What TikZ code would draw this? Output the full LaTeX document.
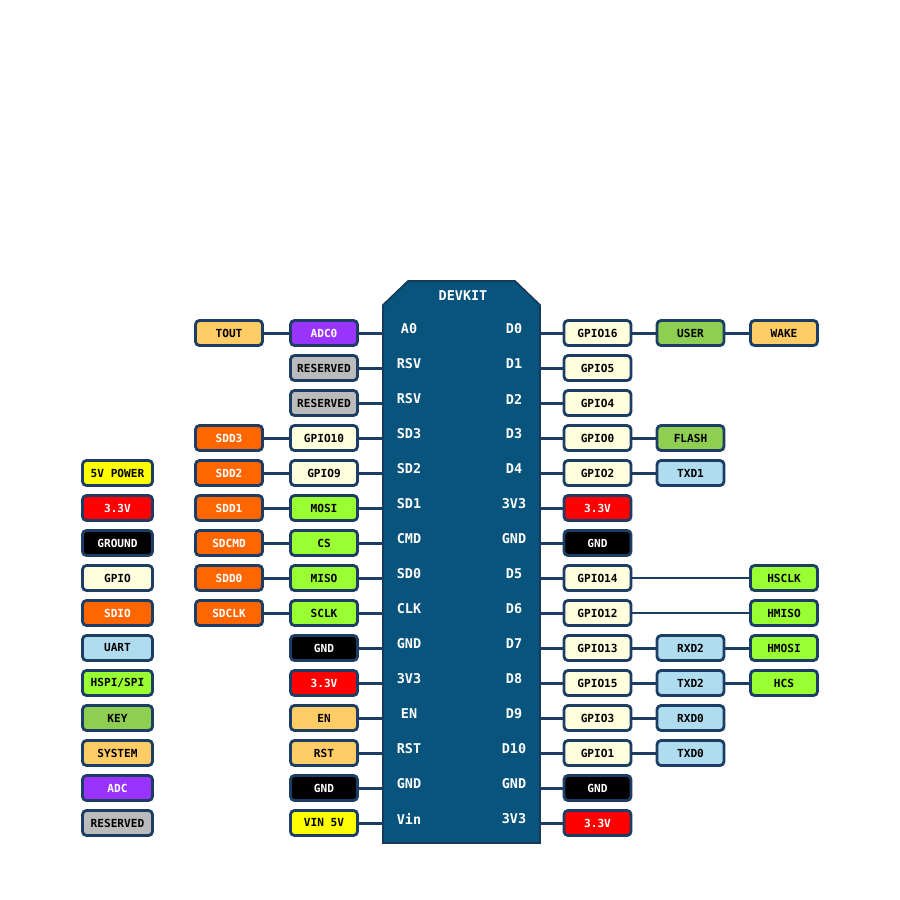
\documentclass[tikz,border=0pt]{standalone}
\usepackage{fontspec}
\setmonofont{DejaVu Sans Mono}

\definecolor{edgeblue}{RGB}{28,62,100}
\definecolor{boardblue}{RGB}{8,84,125}
\definecolor{boardedge}{RGB}{22,58,92}
\definecolor{sysorange}{RGB}{255,204,102}
\definecolor{adcpurple}{RGB}{153,51,255}
\definecolor{resgray}{RGB}{187,187,187}
\definecolor{gpioyellow}{RGB}{255,255,221}
\definecolor{sdorange}{RGB}{255,102,0}
\definecolor{spigreen}{RGB}{153,255,51}
\definecolor{keygreen}{RGB}{142,206,80}
\definecolor{uartblue}{RGB}{176,220,240}
\definecolor{pwrred}{RGB}{255,0,0}
\definecolor{vinyellow}{RGB}{255,255,0}

\tikzset{
  pinbox/.style={draw=edgeblue, line width=0.85mm, rounded corners=1.2mm,
    minimum width=20.1mm, minimum height=7.5mm, inner sep=0pt,
    font=\ttfamily\bfseries\fontsize{9.5}{11}\selectfont, text=black},
  keybox/.style={minimum width=21mm},
  gpiobox/.style={pinbox, fill=gpioyellow},
  sysbox/.style={pinbox, fill=sysorange},
  adcbox/.style={pinbox, fill=adcpurple, text=white},
  resbox/.style={pinbox, fill=resgray},
  sdbox/.style={pinbox, fill=sdorange, text=white},
  spibox/.style={pinbox, fill=spigreen},
  keyfn/.style={pinbox, fill=keygreen},
  uartbox/.style={pinbox, fill=uartblue},
  pwrbox/.style={pinbox, fill=pwrred, text=white},
  gndbox/.style={pinbox, fill=black, text=white},
  vinbox/.style={pinbox, fill=vinyellow},
  wire/.style={draw=edgeblue, line width=0.9mm},
  thinwire/.style={draw=edgeblue, line width=0.55mm},
  board/.style={fill=boardblue, draw=boardedge, line width=0.5mm},
  pinlbl/.style={text=white, font=\ttfamily\bfseries\fontsize{11.5}{13}\selectfont},
}

\begin{document}
\begin{tikzpicture}[x=0.3mm, y=-0.3mm]
  \useasboundingbox (0,0) rectangle (900,900);

  % the module
  \draw[board] (383,305) -- (408,281) -- (515,281) -- (540,305)
    -- (540,843) -- (383,843) -- cycle;
  \coordinate (bw) at (383,0);
  \coordinate (be) at (540,0);
  \node[pinlbl] (title) at (463,296) {DEVKIT};

  \foreach \t [count=\i] in {A0,RSV,RSV,SD3,SD2,SD1,CMD,SD0,CLK,GND,3V3,EN,RST,GND,Vin}
    \node[pinlbl] (l\i) at (409,{329+35*(\i-1)}) {\t};
  \foreach \t [count=\i] in {D0,D1,D2,D3,D4,3V3,GND,D5,D6,D7,D8,D9,D10,GND,3V3}
    \node[pinlbl] (r\i) at (514,{329+35*(\i-1)}) {\t};

  % left side, first column
  \node[adcbox]  (adc0)   at (324,333) {ADC0};
  \node[resbox]  (rsva)   at (324,368) {RESERVED};
  \node[resbox]  (rsvb)   at (324,403) {RESERVED};
  \node[gpiobox] (gpio10) at (324,438) {GPIO10};
  \node[gpiobox] (gpio9)  at (324,473) {GPIO9};
  \node[spibox]  (mosi)   at (324,508) {MOSI};
  \node[spibox]  (cs)     at (324,543) {CS};
  \node[spibox]  (miso)   at (324,578) {MISO};
  \node[spibox]  (sclk)   at (324,613) {SCLK};
  \node[gndbox]  (gndla)  at (324,648) {GND};
  \node[pwrbox]  (vccl)   at (324,683) {3.3V};
  \node[sysbox]  (en)     at (324,718) {EN};
  \node[sysbox]  (rst)    at (324,753) {RST};
  \node[gndbox]  (gndlb)  at (324,788) {GND};
  \node[vinbox]  (vin)    at (324,823) {VIN 5V};

  \foreach \n in {adc0,rsva,rsvb,gpio10,gpio9,mosi,cs,miso,sclk,gndla,vccl,en,rst,gndlb,vin}
    \draw[wire] (\n) -- (\n -| bw);

  % left side, second column
  \node[sysbox] (tout)  at (229,333) {TOUT};
  \node[sdbox]  (sdd3)  at (229,438) {SDD3};
  \node[sdbox]  (sdd2)  at (229,473) {SDD2};
  \node[sdbox]  (sdd1)  at (229,508) {SDD1};
  \node[sdbox]  (sdcmd) at (229,543) {SDCMD};
  \node[sdbox]  (sdd0)  at (229,578) {SDD0};
  \node[sdbox]  (sdclk) at (229,613) {SDCLK};

  \draw[wire] (tout) -- (adc0);
  \draw[wire] (sdd3) -- (gpio10);
  \draw[wire] (sdd2) -- (gpio9);
  \draw[wire] (sdd1) -- (mosi);
  \draw[wire] (sdcmd) -- (cs);
  \draw[wire] (sdd0) -- (miso);
  \draw[wire] (sdclk) -- (sclk);

  % legend
  \node[vinbox, keybox]  (kpwr)  at (117.5,473) {5V POWER};
  \node[pwrbox, keybox]  (k33)   at (117.5,508) {3.3V};
  \node[gndbox, keybox]  (kgnd)  at (117.5,543) {GROUND};
  \node[gpiobox, keybox] (kgpio) at (117.5,578) {GPIO};
  \node[sdbox, keybox]   (ksdio) at (117.5,613) {SDIO};
  \node[uartbox, keybox] (kuart) at (117.5,648) {UART};
  \node[spibox, keybox]  (kspi)  at (117.5,683) {HSPI/SPI};
  \node[keyfn, keybox]   (kkey)  at (117.5,718) {KEY};
  \node[sysbox, keybox]  (ksys)  at (117.5,753) {SYSTEM};
  \node[adcbox, keybox]  (kadc)  at (117.5,788) {ADC};
  \node[resbox, keybox]  (kres)  at (117.5,823) {RESERVED};

  % right side, first column
  \node[gpiobox] (gpio16) at (597.5,333) {GPIO16};
  \node[gpiobox] (gpio5)  at (597.5,368) {GPIO5};
  \node[gpiobox] (gpio4)  at (597.5,403) {GPIO4};
  \node[gpiobox] (gpio0)  at (597.5,438) {GPIO0};
  \node[gpiobox] (gpio2)  at (597.5,473) {GPIO2};
  \node[pwrbox]  (vccra)  at (597.5,508) {3.3V};
  \node[gndbox]  (gndra)  at (597.5,543) {GND};
  \node[gpiobox] (gpio14) at (597.5,578) {GPIO14};
  \node[gpiobox] (gpio12) at (597.5,613) {GPIO12};
  \node[gpiobox] (gpio13) at (597.5,648) {GPIO13};
  \node[gpiobox] (gpio15) at (597.5,683) {GPIO15};
  \node[gpiobox] (gpio3)  at (597.5,718) {GPIO3};
  \node[gpiobox] (gpio1)  at (597.5,753) {GPIO1};
  \node[gndbox]  (gndrb)  at (597.5,788) {GND};
  \node[pwrbox]  (vccrb)  at (597.5,823) {3.3V};

  \foreach \n in {gpio16,gpio5,gpio4,gpio0,gpio2,vccra,gndra,gpio14,gpio12,gpio13,gpio15,gpio3,gpio1,gndrb,vccrb}
    \draw[wire] (be |- \n) -- (\n);

  % right side, second column
  \node[keyfn]   (user)  at (690.5,333) {USER};
  \node[keyfn]   (flash) at (690.5,438) {FLASH};
  \node[uartbox] (txd1)  at (690.5,473) {TXD1};
  \node[uartbox] (rxd2)  at (690.5,648) {RXD2};
  \node[uartbox] (txd2)  at (690.5,683) {TXD2};
  \node[uartbox] (rxd0)  at (690.5,718) {RXD0};
  \node[uartbox] (txd0)  at (690.5,753) {TXD0};

  \draw[wire] (gpio16) -- (user);
  \draw[wire] (gpio0) -- (flash);
  \draw[wire] (gpio2) -- (txd1);
  \draw[wire] (gpio13) -- (rxd2);
  \draw[wire] (gpio15) -- (txd2);
  \draw[wire] (gpio3) -- (rxd0);
  \draw[wire] (gpio1) -- (txd0);

  % right side, third column
  \node[sysbox] (wake)  at (784,333) {WAKE};
  \node[spibox] (hsclk) at (784,578) {HSCLK};
  \node[spibox] (hmiso) at (784,613) {HMISO};
  \node[spibox] (hmosi) at (784,648) {HMOSI};
  \node[spibox] (hcs)   at (784,683) {HCS};

  \draw[wire] (user) -- (wake);
  \draw[thinwire] (gpio14) -- (hsclk);
  \draw[thinwire] (gpio12) -- (hmiso);
  \draw[wire] (rxd2) -- (hmosi);
  \draw[wire] (txd2) -- (hcs);
\end{tikzpicture}
\end{document}
